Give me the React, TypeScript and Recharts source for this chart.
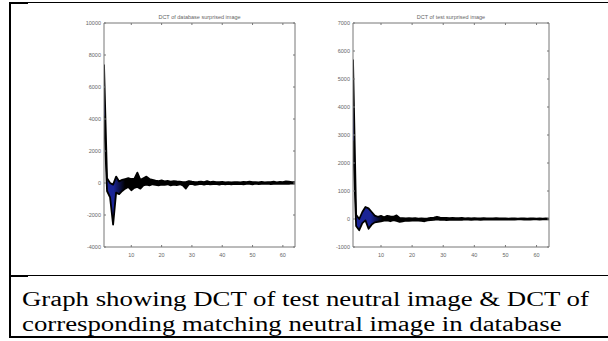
import { ComposedChart, Area, XAxis, YAxis } from 'recharts'

// DCT coefficient spread, database surprised image (x = 1..64)
const dbLow = [
  4200, -500, -900, -2600, -600, -700, -500, -350, -250, -450, -300, -250, -350, -150, -100, -150,
  -80, -120, -150, -100, -120, -80, -150, -100, -130, -80, -150, -350, -80, -60, -120, -80,
  -60, -100, -50, -90, -70, -60, -100, -60, -80, -50, -90, -60, -70, -50, -80, -50,
  -60, -80, -40, -70, -50, -60, -40, -70, -50, -60, -40, -50, -40, -60, -30, -40,
]
const dbHigh = [
  7400, 300, 0, -100, 400, 100, 200, 250, 300, 250, 250, 650, 200, 300, 400, 250,
  200, 150, 120, 160, 100, 130, 90, 120, 100, 90, 60, 50, 120, 80, 60, 70,
  90, 60, 110, 60, 80, 50, 60, 70, 40, 60, 40, 50, 60, 40, 70, 50,
  90, 50, 60, 40, 70, 40, 60, 50, 80, 40, 70, 60, 100, 80, 60, 50,
]

// DCT coefficient spread, test surprised image (x = 1..64)
const testLow = [
  2800, -250, -400, -150, -50, -350, -200, -120, -100, -80, -60, -50, -80, -40, -70, -100,
  -80, -60, -70, -60, -50, -60, -70, -80, -50, -40, -30, -10, -30, -20, -40, -30,
  -20, -30, -20, -30, -10, -20, -30, -20, -20, -30, -20, -20, -10, -20, -20, -10,
  -20, -10, -20, -10, -20, -10, -10, -20, -10, -20, -10, -10, -20, -10, -10, -10,
]
const testHigh = [
  5700, 150, 0, 250, 430, 380, 250, 120, 80, 110, 60, 110, 90, 80, 130, 40,
  30, 20, 30, 20, 30, 10, 20, 10, 20, 40, 50, 80, 50, 40, 40, 30,
  40, 30, 30, 40, 20, 30, 20, 30, 20, 20, 30, 20, 20, 20, 30, 20,
  20, 20, 10, 20, 20, 10, 20, 20, 10, 20, 20, 10, 20, 10, 20, 10,
]

const xTicks = [10, 20, 30, 40, 50, 60]
const dbYTicks = [-4000, -2000, 0, 2000, 4000, 6000, 8000, 10000]
const testYTicks = [-1000, 0, 1000, 2000, 3000, 4000, 5000, 6000, 7000]

const dbData = dbLow.map((lo, i) => ({ x: i + 1, band: [lo, dbHigh[i]] }))
const testData = testLow.map((lo, i) => ({ x: i + 1, band: [lo, testHigh[i]] }))

const AXIS = '#777'
const tickStyle = { fontSize: 5.5, fill: '#666', fontFamily: 'Liberation Sans, Arial, sans-serif' }

interface DctPlotProps {
  id: string
  data: { x: number; band: number[] }[]
  yTicks: number[]
  blueEnd: number
  width: number
  height: number
}

function DctPlot({ id, data, yTicks, blueEnd, width, height }: DctPlotProps) {
  const yDomain: [number, number] = [yTicks[0], yTicks[yTicks.length - 1]]
  const xDomain: [number, number] = [1, 64]
  return (
    <ComposedChart width={width} height={height} data={data} margin={{ top: 0, right: 0, bottom: 0, left: 0 }}>
      <defs>
        <linearGradient id={id} x1="0" y1="0" x2="1" y2="0">
          <stop offset="0" stopColor="#1a2496" />
          <stop offset={blueEnd} stopColor="#1a2496" />
          <stop offset={blueEnd + 0.06} stopColor="#000" />
          <stop offset="1" stopColor="#000" />
        </linearGradient>
      </defs>
      <XAxis
        xAxisId="b" dataKey="x" type="number" domain={xDomain} ticks={xTicks} allowDataOverflow
        height={20} tickSize={-2} tickMargin={8} tick={tickStyle}
        stroke={AXIS} tickLine={{ stroke: AXIS }}
      />
      <XAxis
        xAxisId="t" orientation="top" dataKey="x" type="number" domain={xDomain} ticks={xTicks} allowDataOverflow
        height={10} tickSize={-2} tickFormatter={() => ''} stroke={AXIS} tickLine={{ stroke: AXIS }}
      />
      <YAxis
        yAxisId="l" type="number" domain={yDomain} ticks={yTicks} allowDataOverflow
        width={40} tickSize={-2} tickMargin={5} tick={tickStyle}
        stroke={AXIS} tickLine={{ stroke: AXIS }}
      />
      <YAxis
        yAxisId="r" orientation="right" type="number" domain={yDomain} ticks={yTicks} allowDataOverflow
        width={10} tickSize={-2} tickFormatter={() => ''} stroke={AXIS} tickLine={{ stroke: AXIS }}
      />
      <Area
        xAxisId="b" yAxisId="l" dataKey="band" type="linear"
        fill={`url(#${id})`} fillOpacity={1} stroke="#000" strokeWidth={1.8} strokeLinejoin="round"
        isAnimationActive={false} dot={false} activeDot={false}
      />
    </ComposedChart>
  )
}

const titleStyle: React.CSSProperties = {
  position: 'absolute', top: 14, fontSize: 5.5, color: '#666',
  fontFamily: 'Liberation Sans, Arial, sans-serif', textAlign: 'center', whiteSpace: 'nowrap',
}

export default function App() {
  return (
    <div style={{ position: 'absolute', left: 0, top: 0, width: 608, height: 341, background: '#fff', overflow: 'hidden' }}>
      {/* table borders */}
      <div style={{ position: 'absolute', left: 9, top: 2, width: 2, height: 336, background: '#000' }} />
      <div style={{ position: 'absolute', left: 9, top: 2, width: 599, height: 1, background: '#000' }} />
      <div style={{ position: 'absolute', left: 9, top: 2, width: 19, height: 2, background: '#000' }} />
      <div style={{ position: 'absolute', left: 9, top: 275, width: 599, height: 1, background: '#000' }} />
      <div style={{ position: 'absolute', left: 9, top: 275, width: 19, height: 2, background: '#000' }} />
      <div style={{ position: 'absolute', left: 9, top: 336, width: 599, height: 2, background: '#000' }} />

      <div style={{ ...titleStyle, left: 104, width: 191 }}>DCT of database surprised image</div>
      <div style={{ ...titleStyle, left: 353, width: 196 }}>DCT of test surprised image</div>

      <div style={{ position: 'absolute', left: 64, top: 13 }}>
        <DctPlot id="gDb" data={dbData} yTicks={dbYTicks} blueEnd={0.05} width={241} height={254} />
      </div>
      <div style={{ position: 'absolute', left: 313, top: 13 }}>
        <DctPlot id="gTest" data={testData} yTicks={testYTicks} blueEnd={0.09} width={246} height={254} />
      </div>

      <div
        style={{
          position: 'absolute', left: 22, top: 287, fontFamily: '"Liberation Serif", "Times New Roman", serif',
          fontSize: 20, lineHeight: '25px', color: '#000', whiteSpace: 'nowrap',
          transform: 'scaleX(1.34)', transformOrigin: 'left top',
        }}
      >
        Graph showing DCT of test neutral image &amp; DCT of
        <br />
        corresponding matching neutral image in database
      </div>
    </div>
  )
}
